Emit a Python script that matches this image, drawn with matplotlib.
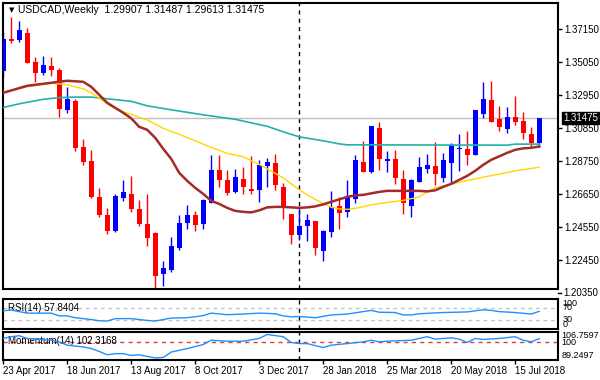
import matplotlib
matplotlib.use("Agg")
import matplotlib.pyplot as plt

plt.rcParams['font.family'] = ['Liberation Sans', 'DejaVu Sans']

# weekly USDCAD candles, first bar = 23 Apr 2017
opens = [1.3448, 1.3651, 1.3645, 1.3690, 1.3505, 1.3435, 1.3480, 1.3454, 1.3200, 1.3257,
         1.2964, 1.2875, 1.2646, 1.2531, 1.2430, 1.2640, 1.2665, 1.2570, 1.2474, 1.2417,
         1.2156, 1.2181, 1.2321, 1.2480, 1.2531, 1.2474, 1.2608, 1.2818, 1.2754, 1.2678,
         1.2760, 1.2697, 1.2690, 1.2843, 1.2862, 1.2710, 1.2538, 1.2404, 1.2461, 1.2493,
         1.2302, 1.2423, 1.2589, 1.2550, 1.2633, 1.2869, 1.2805, 1.3085, 1.2873, 1.2888,
         1.2760, 1.2589, 1.2741, 1.2824, 1.2843, 1.2767, 1.2862, 1.2951, 1.2951, 1.2913,
         1.3174, 1.3264, 1.3142, 1.3079, 1.3155, 1.3130, 1.3047, 1.29907]
highs = [1.3696, 1.3791, 1.3766, 1.3721, 1.3537, 1.3543, 1.3537, 1.3467, 1.3346, 1.3270,
         1.3015, 1.2945, 1.2703, 1.2576, 1.2665, 1.2754, 1.2780, 1.2627, 1.2665, 1.2423,
         1.2239, 1.2391, 1.2531, 1.2595, 1.2557, 1.2633, 1.2913, 1.2913, 1.2818, 1.2824,
         1.2837, 1.2907, 1.2881, 1.2894, 1.2920, 1.2735, 1.2538, 1.2582, 1.2538, 1.2493,
         1.2436, 1.2684, 1.2646, 1.2754, 1.2913, 1.3002, 1.3098, 1.3123, 1.2939, 1.2945,
         1.2818, 1.2760, 1.2900, 1.2920, 1.2996, 1.2926, 1.2990, 1.3047, 1.3066, 1.3200,
         1.3378, 1.3384, 1.3225, 1.3219, 1.3289, 1.3187, 1.3091, 1.31487]
lows = [1.3410, 1.3626, 1.3632, 1.3499, 1.3378, 1.3422, 1.3416, 1.3155, 1.3181, 1.2939,
        1.2850, 1.2640, 1.2519, 1.2410, 1.2423, 1.2620, 1.2550, 1.2461, 1.2334, 1.2061,
        1.2080, 1.2169, 1.2309, 1.2442, 1.2430, 1.2442, 1.2608, 1.2710, 1.2659, 1.2671,
        1.2665, 1.2665, 1.2614, 1.2710, 1.2690, 1.2506, 1.2347, 1.2372, 1.2366, 1.2277,
        1.2239, 1.2391, 1.2442, 1.2519, 1.2608, 1.2805, 1.2799, 1.2818, 1.2805, 1.2729,
        1.2538, 1.2519, 1.2741, 1.2799, 1.2722, 1.2741, 1.2735, 1.2811, 1.2850, 1.2913,
        1.3149, 1.3123, 1.3066, 1.3053, 1.3104, 1.3015, 1.2964, 1.29613]
closes = [1.3651, 1.3639, 1.3709, 1.3499, 1.3435, 1.3486, 1.3454, 1.3206, 1.3270, 1.2958,
          1.2869, 1.2646, 1.2531, 1.2430, 1.2652, 1.2678, 1.2570, 1.2474, 1.2385, 1.2143,
          1.2194, 1.2334, 1.2480, 1.2531, 1.2468, 1.2627, 1.2818, 1.2754, 1.2671, 1.2773,
          1.2710, 1.2684, 1.2850, 1.2869, 1.2722, 1.2582, 1.2404, 1.2461, 1.2500, 1.2321,
          1.2430, 1.2582, 1.2544, 1.2646, 1.2881, 1.2805, 1.3098, 1.2888, 1.2885, 1.2767,
          1.2608, 1.2754, 1.2837, 1.2850, 1.2792, 1.2881, 1.2977, 1.2958, 1.2913, 1.3200,
          1.3270, 1.3123, 1.3091, 1.3155, 1.3123, 1.3053, 1.2990, 1.31475]

# moving averages (bar index, price)
ma_brown_idx = [0, 3, 6, 8, 10, 11, 12, 13, 15, 16, 17, 18, 19, 20, 21, 22, 23, 24, 25, 26,
                27, 28, 29, 30, 31, 32, 33, 34, 35, 36, 37, 38, 39, 40, 41, 42, 43, 44, 45, 46,
                47, 48, 52, 53, 54, 55, 56, 57, 58, 59, 60, 61, 62, 63, 64, 65, 66, 67]
ma_brown = [1.33077, 1.33523, 1.33714, 1.33841, 1.33777, 1.33459, 1.32950, 1.32441, 1.31805, 1.31455,
            1.30914, 1.30723, 1.30214, 1.29514, 1.28877, 1.27986, 1.27477, 1.27032, 1.26650, 1.26205,
            1.26014, 1.25759, 1.25568, 1.25505, 1.25473, 1.25600, 1.25791, 1.25823, 1.25823, 1.25791,
            1.25759, 1.25791, 1.25855, 1.25982, 1.26141, 1.26300, 1.26459, 1.26555, 1.26586, 1.26682,
            1.26777, 1.26841, 1.26841, 1.26809, 1.26873, 1.27095, 1.27286, 1.27541, 1.27795, 1.28114,
            1.28495, 1.28814, 1.29037, 1.29259, 1.29450, 1.29546, 1.29577, 1.29660]
ma_yellow_idx = [0, 3, 6, 7, 8, 9, 10, 11, 12, 13, 14, 15, 16, 17, 18, 20, 22, 24, 26, 28,
                 30, 32, 34, 35, 36, 37, 38, 39, 40, 41, 42, 43, 44, 46, 48, 50, 52, 53, 54, 55,
                 56, 58, 60, 62, 64, 66, 67]
ma_yellow = [1.33122, 1.33459, 1.33682, 1.33650, 1.33587, 1.33459, 1.33332, 1.33077, 1.32727, 1.32377,
             1.32091, 1.31868, 1.31709, 1.31518, 1.31359, 1.30818, 1.30436, 1.30023, 1.29609, 1.29227,
             1.29005, 1.28527, 1.27955, 1.27668, 1.27286, 1.26905, 1.26586, 1.26300, 1.26045, 1.25791,
             1.25695, 1.25664, 1.25727, 1.25950, 1.26109, 1.26236, 1.26459, 1.26777, 1.27032, 1.27159,
             1.27267, 1.27496, 1.27712, 1.27903, 1.28114, 1.28260, 1.28349]
ma_teal_idx = [0, 2, 5, 7, 9, 11, 13, 16, 18, 21, 25, 29, 33, 35, 37, 40, 42, 43, 63, 64, 67]
ma_teal = [1.32142, 1.32377, 1.32664, 1.32772, 1.32804, 1.32804, 1.32696, 1.32536, 1.32250, 1.31995,
           1.31677, 1.31391, 1.30946, 1.30596, 1.30278, 1.30023, 1.29832, 1.29768, 1.29749, 1.29813,
           1.29813]

rsi_idx = [0, 1, 3, 6, 7, 8, 9, 11, 12, 13, 14, 16, 18, 19, 20, 21, 23, 24, 25, 26,
           28, 30, 32, 34, 35, 36, 37, 39, 41, 43, 44, 46, 47, 49, 50, 51, 52, 55, 58, 60,
           61, 62, 64, 66, 67]
rsi = [60, 62, 52, 52, 43, 43, 37, 31, 27, 26, 34, 34, 28, 26, 31, 36, 37, 40, 44, 52,
       47, 49, 52, 50, 43, 40, 41, 37, 46, 49, 53, 61, 55, 54, 46, 46, 50, 54, 56, 63,
       61, 57, 54, 49, 57.84]

mom_idx = [0, 1, 2, 3, 6, 7, 8, 10, 11, 12, 13, 14, 15, 16, 17, 19, 20, 21, 23, 25,
           26, 28, 30, 32, 33, 35, 36, 37, 38, 40, 41, 43, 45, 46, 47, 48, 51, 53, 54, 56,
           57, 58, 59, 60, 62, 64, 65, 66, 67]
mom = [102.4, 103.5, 104.1, 102.4, 101.3, 100.3, 98.2, 97.1, 96.1, 94.3, 92.2, 92.9, 92.9, 91.8, 92.2,
       90.2, 90.5, 93.9, 96.1, 98.6, 101.3, 100.7, 100.7, 102.4, 104.9, 103.5, 99.9, 99.2, 99.2, 96.7,
       98.2, 99.2, 100.3, 101.3, 100.3, 100.7, 101.3, 103.5, 102.0, 102.8, 102.0, 99.9, 102.4, 101.8,
       102.4, 103.5, 101.3, 100.3, 102.3168]

price_ticks = [1.22450, 1.24550, 1.26650, 1.28750, 1.30850, 1.32950, 1.35050, 1.37150]
date_idx = [0, 8, 16, 24, 32, 40, 48, 56, 64]
date_labels = ['23 Apr 2017', '18 Jun 2017', '13 Aug 2017', '8 Oct 2017', '3 Dec 2017',
               '28 Jan 2018', '25 Mar 2018', '20 May 2018', '15 Jul 2018']
year_sep = 37
last_price = 1.31475

W, H = 600, 380
fig = plt.figure(figsize=(6, 3.8), dpi=100)
fig.patch.set_facecolor('white')


def px_axes(left, top, right, bottom):
    return fig.add_axes([left / W, 1 - bottom / H, (right - left) / W, (bottom - top) / H])


ax = px_axes(2.5, 2.5, 557.5, 289)
ax_rsi = px_axes(2.5, 298.5, 557.5, 329)
ax_mom = px_axes(2.5, 331.5, 557.5, 359.5)

xlim = (-0.09, 69.29)
for a in (ax, ax_rsi, ax_mom):
    a.set_xlim(*xlim)
    for s in a.spines.values():
        s.set_linewidth(1.5)
        s.set_color('black')
    a.tick_params(axis='x', which='both', bottom=False, labelbottom=False)
    a.yaxis.tick_right()
    a.axvline(year_sep, color='black', lw=1, ls=(0, (3, 3)), zorder=1)

# candles
for i, (o, h, l, c) in enumerate(zip(opens, highs, lows, closes)):
    col = '#0000ff' if c >= o else '#ff0000'
    ax.vlines(i, l, h, color=col, lw=1, zorder=2)
    ax.bar(i, max(abs(c - o), 0.0005), bottom=min(o, c), width=0.62, color=col,
           edgecolor=col, lw=0, zorder=3)

ax.axhline(last_price, color='#c0c0c0', lw=1, zorder=1)
ax.plot(ma_teal_idx, ma_teal, color='#20b2aa', lw=1.2, zorder=4)
ax.plot(ma_yellow_idx, ma_yellow, color='#ffd700', lw=1, zorder=4)
ax.plot(ma_brown_idx, ma_brown, color='#a52a2a', lw=1.8, zorder=5)

ax.set_ylim(1.2060, 1.3882)
ax.set_yticks(price_ticks)
ax.set_yticklabels(['%.5f' % p for p in price_ticks])
ax.tick_params(axis='y', length=3, width=1, pad=2, labelsize=7)
ytr = ax.get_yaxis_transform()
ax.plot([1.0, 1.0 + 3 / 555], [1.20350, 1.20350], color='black', lw=1,
        transform=ytr, clip_on=False)
ax.text(1.0 + 5.5 / 555, 1.20350, '1.20350', transform=ytr, fontsize=7,
        va='center', ha='left', clip_on=False)
ax.text(1.0 + 5.5 / 555, last_price, '%.5f' % last_price, transform=ytr, fontsize=7,
        va='center', ha='left', color='white', clip_on=False, zorder=10,
        bbox=dict(boxstyle='square,pad=0.15', facecolor='black', edgecolor='black'))

fig.text(9 / W, 1 - 10 / H, '\u25bc', fontsize=5, family='DejaVu Sans',
         va='center', ha='left')
fig.text(18 / W, 1 - 10 / H, 'USDCAD,Weekly  1.29907 1.31487 1.29613 1.31475',
         fontsize=7.5, va='center', ha='left')

# RSI window
ax_rsi.set_ylim(0, 100)
ax_rsi.set_yticks([])
for lv in (70, 30):
    ax_rsi.axhline(lv, color='#c0c0c0', lw=0.9, ls=(0, (3, 3)), zorder=1)
ax_rsi.plot(rsi_idx, rsi, color='#1e90ff', lw=1, zorder=3)
ax_rsi.text(5 / 555, 0.7, 'RSI(14) 57.8404', transform=ax_rsi.transAxes,
            fontsize=7, va='center', ha='left', zorder=2)
rtr = ax_rsi.get_yaxis_transform()
for val, va in ((100, 'top'), (70, 'center'), (30, 'center'), (0, 'bottom')):
    ax_rsi.text(1.0 + 5 / 555, val, str(val), transform=rtr, fontsize=6.5,
                va=va, ha='left', clip_on=False)

# Momentum window
mom_lo, mom_hi = 89.2497, 106.7597
ax_mom.set_ylim(mom_lo, mom_hi)
ax_mom.set_yticks([])
ax_mom.axhline(100, color='#e03c3c', lw=1, ls=(0, (3, 3)), zorder=1)
ax_mom.plot(mom_idx, mom, color='#1e90ff', lw=1, zorder=3)
ax_mom.text(5 / 555, 0.66, 'Momentum(14) 102.3168', transform=ax_mom.transAxes,
            fontsize=7, va='center', ha='left', zorder=2)
mtr = ax_mom.get_yaxis_transform()
for val, txt, va in ((mom_hi, '106.7597', 'top'), (100, '100', 'center'),
                     (mom_lo, '89.2497', 'bottom')):
    ax_mom.text(1.0 + 4 / 555, val, txt, transform=mtr, fontsize=6.5,
                va=va, ha='left', clip_on=False)

ax_mom.set_xticks(date_idx)
ax_mom.set_xticklabels(date_labels)
ax_mom.tick_params(axis='x', bottom=True, labelbottom=True, length=3, width=1,
                   pad=1.5, labelsize=7)
for lab in ax_mom.get_xticklabels():
    lab.set_ha('left')

fig.savefig('out.png', dpi=100)
